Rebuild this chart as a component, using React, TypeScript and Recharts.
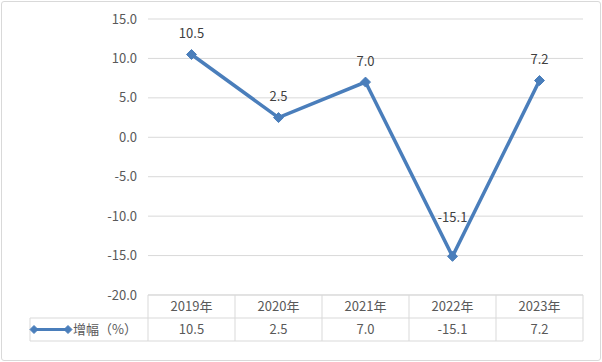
import { CartesianGrid, LabelList, Line, LineChart, XAxis, YAxis } from "recharts";

// #region Sample data
const years = ["2019年", "2020年", "2021年", "2022年", "2023年"];
const growth = [10.5, 2.5, 7.0, -15.1, 7.2];
const yTicks = [-20, -15, -10, -5, 0, 5, 10, 15];
const seriesName = "增幅（%）";
// #endregion

const data = years.map((year, i) => ({ year, growth: growth[i] }));

const FONT = "'Noto Sans CJK SC', 'Noto Sans', sans-serif";
const BLUE = "#4a7ebb";
const GRID = "#d9d9d9";
const TEXT = "#595959";
const FS = 13;

const W = 602;
const H = 362;
const PLOT_LEFT = 148;
const PLOT_RIGHT = 583;
const PLOT_TOP = 19;
const PLOT_BOTTOM = 295;
const ROW_H = 23;
const TABLE_LEFT = 30;
const CELL = (PLOT_RIGHT - PLOT_LEFT) / years.length;

const Diamond = ({ cx, cy, r = 5 }: { cx: number; cy: number; r?: number }) => (
  <polygon
    points={`${cx},${cy - r} ${cx + r},${cy} ${cx},${cy + r} ${cx - r},${cy}`}
    fill={BLUE}
    stroke={BLUE}
  />
);

const TableTick = (props: any) => {
  const { x, payload, index } = props;
  const left = x - CELL / 2;
  const mid = PLOT_BOTTOM + ROW_H;
  const bottom = PLOT_BOTTOM + ROW_H * 2;
  return (
    <g>
      {index === 0 && (
        <g>
          <line x1={TABLE_LEFT} x2={PLOT_RIGHT} y1={mid} y2={mid} stroke={GRID} />
          <line x1={TABLE_LEFT} x2={PLOT_RIGHT} y1={bottom} y2={bottom} stroke={GRID} />
          <line x1={TABLE_LEFT} x2={TABLE_LEFT} y1={mid} y2={bottom} stroke={GRID} />
          <line x1={TABLE_LEFT + 4} x2={TABLE_LEFT + 38} y1={mid + ROW_H / 2} y2={mid + ROW_H / 2} stroke={BLUE} strokeWidth={3} />
          <Diamond cx={TABLE_LEFT + 4} cy={mid + ROW_H / 2} r={4} />
          <Diamond cx={TABLE_LEFT + 38} cy={mid + ROW_H / 2} r={4} />
          <text x={TABLE_LEFT + 43} y={mid + ROW_H / 2} dy="0.35em" fontSize={FS} fill={TEXT} fontFamily={FONT}>
            {seriesName}
          </text>
        </g>
      )}
      <line x1={left} x2={left} y1={PLOT_BOTTOM} y2={bottom} stroke={GRID} />
      {index === years.length - 1 && (
        <line x1={left + CELL} x2={left + CELL} y1={PLOT_BOTTOM} y2={bottom} stroke={GRID} />
      )}
      <text x={x} y={PLOT_BOTTOM + ROW_H / 2} dy="0.35em" textAnchor="middle" fontSize={FS} fill={TEXT} fontFamily={FONT}>
        {payload.value}
      </text>
      <text x={x} y={mid + ROW_H / 2} dy="0.35em" textAnchor="middle" fontSize={FS} fill={TEXT} fontFamily={FONT}>
        {growth[index].toFixed(1)}
      </text>
    </g>
  );
};

const PointLabel = (props: any) => {
  const { x, y, value } = props;
  const lift = value < -10 ? 39 : 21;
  return (
    <text x={x} y={y - lift} dy="0.35em" textAnchor="middle" fontSize={FS} fill="#404040" fontFamily={FONT}>
      {Number(value).toFixed(1)}
    </text>
  );
};

const App = () => (
  <div style={{ position: "absolute", left: 0, top: 0, width: W, height: H, background: "#fff" }}>
    <div
      style={{
        position: "absolute",
        left: 1,
        top: 1,
        width: W - 4,
        height: H - 4,
        border: `1px solid ${GRID}`,
        borderRadius: 3,
      }}
    />
    <LineChart
      width={W}
      height={H}
      data={data}
      margin={{ top: PLOT_TOP, right: W - PLOT_RIGHT, left: 0, bottom: 0 }}
      style={{ position: "absolute", left: 0, top: 0 }}
    >
      <CartesianGrid vertical={false} stroke={GRID} />
      <XAxis
        dataKey="year"
        padding={{ left: CELL / 2, right: CELL / 2 }}
        height={H - PLOT_BOTTOM}
        interval={0}
        tickLine={false}
        axisLine={{ stroke: GRID }}
        tick={<TableTick />}
      />
      <YAxis
        width={PLOT_LEFT}
        domain={[-20, 15]}
        ticks={yTicks}
        tickFormatter={(v: number) => v.toFixed(1)}
        axisLine={false}
        tickLine={false}
        tickMargin={5}
        tick={{ fontSize: FS, fill: TEXT, fontFamily: FONT }}
      />
      <Line
        type="linear"
        dataKey="growth"
        stroke={BLUE}
        strokeWidth={3.5}
        dot={(p: any) => <Diamond key={p.index} cx={p.cx} cy={p.cy} r={5} />}
        activeDot={false}
        isAnimationActive={false}
      >
        <LabelList dataKey="growth" content={<PointLabel />} />
      </Line>
    </LineChart>
  </div>
);

export default App;
